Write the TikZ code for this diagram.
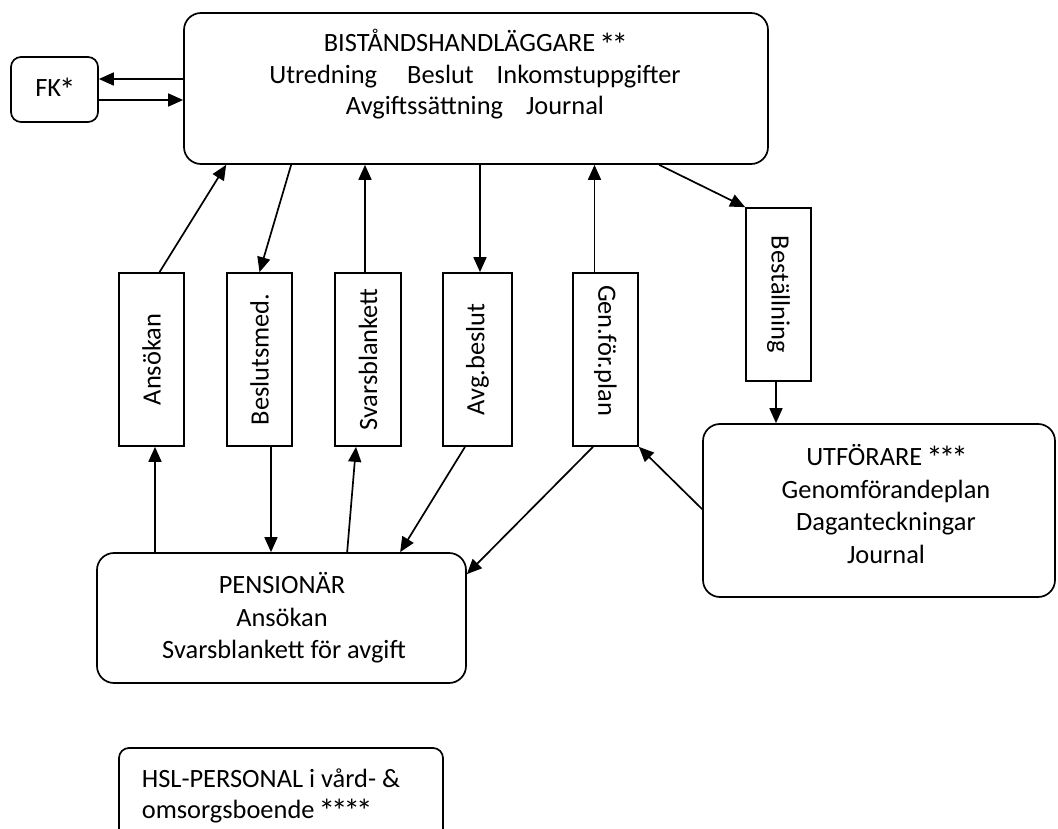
\documentclass[tikz,border=0pt]{standalone}
\usepackage{fontspec}
\setmainfont{Carlito}
\usetikzlibrary{arrows.meta}
\newcommand{\myast}{\makebox[12.5pt]{\raisebox{-4.5pt}{\scalebox{1.25}{*}}}}
\begin{document}
\begin{tikzpicture}[x=1pt,y=-1pt,line width=1.7pt,
  every node/.style={font=\fontsize{26.4}{32}\selectfont},
  box/.style={draw,rectangle,inner sep=0pt,line width=1.7pt},
  rbox/.style={box,rounded corners=17pt},
  vbx/.style={box,minimum width=65pt,minimum height=173pt},
  arr/.style={-{Triangle[length=15pt,width=13pt]},line width=1.7pt},
  txt/.style={anchor=base,inner sep=0pt},
  ltxt/.style={anchor=base west,inner sep=0pt}]
\clip (0,0) rectangle (1058,829);
% main boxes
\node[box,rounded corners=10pt,minimum width=87pt,minimum height=65pt] (fk) at (54.5,89.5) {FK\myast};
\node[rbox,minimum width=584pt,minimum height=151pt] (bist) at (476,88.5) {};
\node[txt] (b1) at (475,52) {BISTÅNDSHANDLÄGGARE \myast\myast};
\node[txt] (b2) at (475,84) {Utredning\hspace{30pt}Beslut\hspace{23pt}Inkomstuppgifter};
\node[txt] (b3) at (475,115) {Avgiftssättning\hspace{23pt}Journal};
% vertical document boxes
\node[vbx] (ans) at (151.5,359.5) {\rotatebox{90}{Ansökan}};
\node[vbx] (besl) at (259.5,359.5) {\rotatebox{90}{Beslutsmed.}};
\node[vbx,minimum width=66pt] (svar) at (368,359.5) {\rotatebox{90}{Svarsblankett}};
\node[vbx,minimum width=69pt] (avg) at (477.5,359.5) {\rotatebox{90}{Avg.beslut}};
\node[vbx] (gen) at (605.5,359.5) {\rotatebox{-90}{Gen.för.plan\hspace{18pt}}};
\node[vbx] (best) at (778.5,294.5) {\rotatebox{-90}{Beställning}};
% lower boxes
\node[rbox,minimum width=369pt,minimum height=130pt] (pens) at (281.5,618) {};
\node[txt] (p1) at (282,593) {PENSIONÄR};
\node[txt] (p2) at (282,626) {Ansökan};
\node[txt] (p3) at (284,658) {Svarsblankett för avgift};
\node[rbox,minimum width=352pt,minimum height=173pt] (utf) at (879,510.5) {};
\node[txt] (u1) at (886,465) {UTFÖRARE \myast\myast\myast};
\node[txt] (u2) at (886,498) {Genomförandeplan};
\node[txt] (u3) at (886,530) {Daganteckningar};
\node[txt] (u4) at (886,563) {Journal};
\node[box,rounded corners=10pt,minimum width=324pt,minimum height=112pt] (hsl) at (281,804) {};
\node[ltxt] (h1) at (141,787) {HSL-PERSONAL i vård- \&};
\node[ltxt] (h2) at (141,818) {omsorgsboende \myast\myast\myast\myast};
% connectors
\draw[arr] ([yshift=10.5pt]fk.east -| bist.west) -- ([yshift=10.5pt]fk.east);
\draw[arr] ([yshift=-10.5pt]fk.east) -- ([yshift=-10.5pt]fk.east -| bist.west);
\draw[arr] ([xshift=8pt]ans.north) -- ([xshift=43pt]bist.south west);
\draw[arr] ([xshift=108pt]bist.south west) -- (besl.north);
\draw[arr] ([xshift=-3pt]svar.north) -- ([xshift=-3pt]svar.north |- bist.south);
\draw[arr] ([xshift=2.5pt]avg.north |- bist.south) -- ([xshift=2.5pt]avg.north);
\draw[arr] ([xshift=-11pt]gen.north) -- ([xshift=-11pt]gen.north |- bist.south);
\draw[arr] ([xshift=476pt]bist.south west) -- (best.north west);
\draw[arr] ([xshift=-2.5pt]best.south) -- ([xshift=-2.5pt]best.south |- utf.north);
\draw[arr] ([xshift=3.5pt]ans.south |- pens.north) -- ([xshift=3.5pt]ans.south);
\draw[arr] ([xshift=11.5pt]besl.south) -- ([xshift=11.5pt]besl.south |- pens.north);
\draw[arr] ([xshift=251pt]pens.north west) -- ([xshift=-12pt]svar.south);
\draw[arr] ([xshift=-12.5pt]avg.south) -- ([xshift=304pt]pens.north west);
\draw[arr] ([xshift=-12.5pt]gen.south) -- ([yshift=-22pt]pens.north east);
\draw[arr] ([yshift=-86pt]utf.north west) -- (gen.south east);
\end{tikzpicture}
\end{document}
